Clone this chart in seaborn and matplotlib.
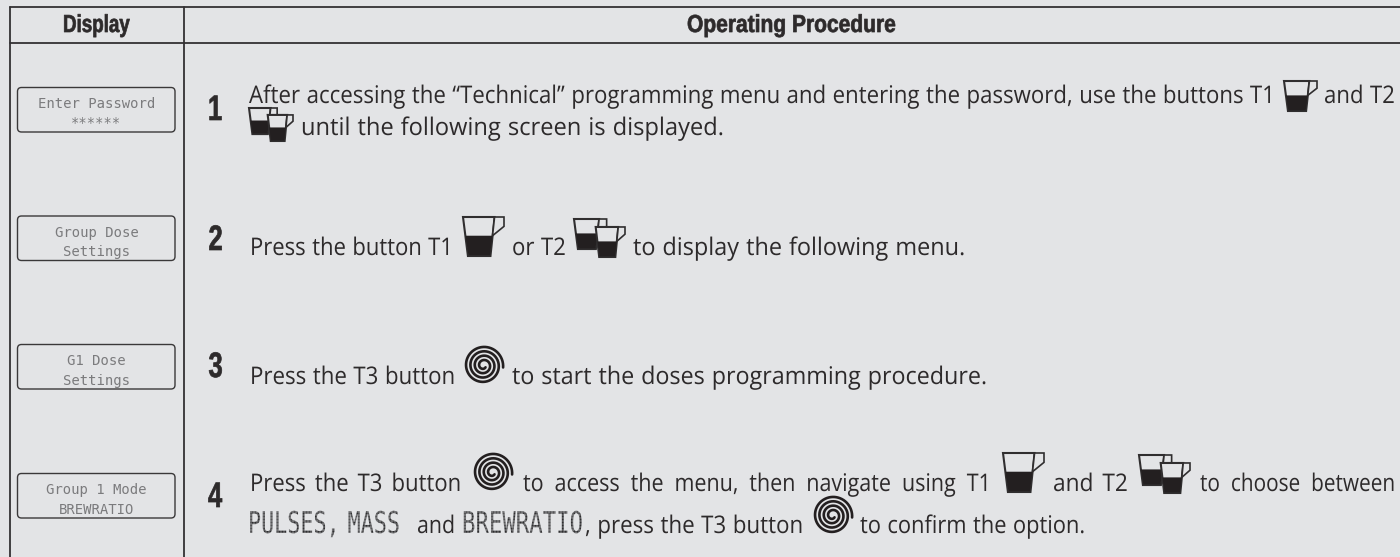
# plot.py
import numpy as np
import matplotlib
matplotlib.use('Agg')
import matplotlib.pyplot as plt
from matplotlib.patches import FancyBboxPatch, Polygon
from matplotlib.patheffects import AbstractPathEffect
from matplotlib.transforms import Affine2D
import seaborn as sns

# TABLE TEXT
header_labels = ['Display', 'Operating Procedure']
display_lines = [
    ['Enter Password', '******'],
    ['Group Dose', 'Settings'],
    ['G1 Dose', 'Settings'],
    ['Group 1 Mode', 'BREWRATIO'],
]
step_numbers = ['1', '2', '3', '4']
step1_text = [
    'After accessing the “Technical” programming menu and entering the password, use the buttons T1',
    'and T2',
    'until the following screen is displayed.',
]
step2_text = ['Press the button T1', 'or T2', 'to display the following menu.']
step3_text = ['Press the T3 button', 'to start the doses programming procedure.']
step4_text = [
    'Press the T3 button',
    'to access the menu, then navigate using T1',
    'and T2',
    'to choose between',
    'and',
    ', press the T3 button',
    'to confirm the option.',
]
lcd_words = ['PULSES, MASS', 'BREWRATIO']

BG = '#e3e4e6'
INK = '#2d2a2b'
LCD = '#7b7b7d'
BODY_FONT = 'Open Sans'
BOLD_FONT = 'Liberation Sans'
MONO_FONT = 'DejaVu Sans Mono'

sns.set_theme(style='white', rc={'figure.facecolor': BG, 'axes.facecolor': BG})

fig = plt.figure(figsize=(14, 5.57), dpi=100)
ax = fig.add_axes([0, 0, 1, 1])

# RULES
for xs, ys in [([10, 1400], [6.7, 6.7]), ([10, 1400], [42.5, 42.5]),
               ([10, 10], [6.7, 557]), ([183.7, 183.7], [6.7, 557])]:
    sns.lineplot(x=xs, y=ys, ax=ax, color='#333133', lw=1.3, sort=False, estimator=None)

ax.set_xlim(0, 1400)
ax.set_ylim(557, 0)
ax.axis('off')
sns.despine(ax=ax, left=True, bottom=True)
renderer = fig.canvas.get_renderer()


class Squeeze(AbstractPathEffect):
    # stretches the glyphs, there is no condensed face installed
    def __init__(self, sx=1.0, sy=1.0, stroke=0.0):
        super().__init__()
        self.sx = sx
        self.sy = sy
        self.stroke = stroke

    def draw_path(self, renderer, gc, tpath, affine, rgbFace=None):
        gc0 = renderer.new_gc()
        gc0.copy_properties(gc)
        if self.stroke:
            gc0.set_linewidth(self.stroke)
            gc0.set_foreground(rgbFace)
        renderer.draw_path(gc0, tpath, Affine2D().scale(self.sx, self.sy) + affine, rgbFace)
        gc0.restore()


def put_word(text, x, base, size, family, color, weight='normal'):
    return ax.text(x, base, text, fontsize=size, family=family, color=color, va='baseline', weight=weight)


def put_line(text, x0, x1, base, size=16.2, family=BODY_FONT, color=INK, gap=6.5, sy=1.08):
    # fixed word gap, letters scaled so the line ends where it does in the manual
    words = text.split(' ')
    items = [put_word(w, x0, base, size, family, color) for w in words]
    widths = [t.get_window_extent(renderer).width for t in items]
    sx = (x1 - x0 - gap * (len(words) - 1)) / sum(widths)
    x = x0
    for t, w in zip(items, widths):
        t.set_x(x)
        t.set_path_effects([Squeeze(sx, sy)])
        x += w * sx + gap


def put_fit(text, x0, x1, base, size):
    t = put_word(text, x0, base, size, BOLD_FONT, INK, weight='bold')
    sx = (x1 - x0) / t.get_window_extent(renderer).width
    t.set_path_effects([Squeeze(sx, stroke=.5)])


def cup(x0, y0, w, h, zorder=3):
    def pt(fx, fy):
        return (x0 + fx * w, y0 + fy * h)
    body = [pt(0, 0), pt(.77, 0), pt(.67, 1), pt(.12, 1)]
    handle = [pt(.77, 0), pt(1, 0), pt(1, .24), pt(.72, .48)]
    ax.add_patch(Polygon(body, closed=True, fc=BG, ec='#302e2f', lw=1.5, zorder=zorder))
    ax.add_patch(Polygon(handle, closed=True, fc=BG, ec='#302e2f', lw=1.2, zorder=zorder))
    fill = [pt(.06, .48), pt(.72, .48), pt(.66, .98), pt(.13, .98)]
    ax.add_patch(Polygon(fill, closed=True, fc='#231f20', ec='none', zorder=zorder + 0.5))


def double_cup(x0, y0, w, h):
    cup(x0, y0, .64 * w, .79 * h, zorder=3)
    cup(x0 + .425 * w, y0 + .21 * h, .575 * w, .79 * h, zorder=5)


def spiral(x0, y0, size):
    radius = size / 2
    t = np.linspace(0, 2 * np.pi * 3.9, 700)
    r = radius - .8 - (radius - 3.5) * t / t.max()
    cx, cy = x0 + radius, y0 + radius
    ax.plot(cx + r * np.cos(t - .1), cy - r * np.sin(t - .1), color='#231f20', lw=1.9,
            solid_capstyle='round', zorder=3)


def lcd_word(text, x0, x1, base):
    put_line(text, x0, x1, base, size=16, family=MONO_FONT, color='#2f2f31', gap=8, sy=1.35)
    # thin background grid turns the letters into dot matrix ones
    ax.hlines(np.arange(base - 24, base + 5, 3), x0 - 1, x1 + 1, color=BG, lw=.3, zorder=3.5)
    ax.vlines(np.arange(x0, x1 + 1, 3), base - 24, base + 5, color=BG, lw=.3, zorder=3.5)


# HEADER
put_fit(header_labels[0], 63, 130, 32, 17.7)
put_fit(header_labels[1], 687, 896, 32, 17.7)

# DISPLAY BOXES
box_tops = [87.5, 216, 344.5, 473.5]
for top, lines in zip(box_tops, display_lines):
    ax.add_patch(FancyBboxPatch((17.5, top), 157.5, 44.5, boxstyle='round,pad=0,rounding_size=4',
                                fc='none', ec='#3a3839', lw=1.0))
    ax.text(96.5, top + 20.5, lines[0], fontsize=10, family=MONO_FONT, color=LCD,
            ha='center', va='baseline')
    ax.text(96.5, top + 40, lines[1], fontsize=10, family=MONO_FONT, color=LCD,
            ha='center', va='baseline')

# STEP NUMBERS
for num, x, base in zip(step_numbers, [208, 208.5, 208.5, 208], [120, 250, 377, 507]):
    t = put_word(num, x, base, 25.5, BOLD_FONT, INK, weight='bold')
    t.set_path_effects([Squeeze(.72, stroke=.5)])

# STEP 1
put_line(step1_text[0], 249, 1275, 103)
cup(1284, 81, 33, 30)
put_line(step1_text[1], 1324, 1395, 103)
double_cup(249, 108, 44, 33)
put_line(step1_text[2], 301, 724, 135, gap=7)

# STEP 2
put_line(step2_text[0], 250, 453, 255)
cup(463, 217, 41, 39)
put_line(step2_text[1], 512, 566, 255)
double_cup(574, 219, 51, 38)
put_line(step2_text[2], 633, 965, 255, gap=7)

# STEP 3
put_line(step3_text[0], 250, 455, 384)
spiral(463, 345, 41)
put_line(step3_text[1], 512, 987, 384, gap=7)

# STEP 4
put_line(step4_text[0], 250, 461, 491, gap=9)
spiral(472, 452, 41)
put_line(step4_text[1], 523, 991, 491, gap=11)
cup(1003, 453, 41, 39)
put_line(step4_text[2], 1053, 1128, 491, gap=9)
double_cup(1139, 455, 51, 38)
put_line(step4_text[3], 1200, 1395, 491, gap=11)
lcd_word(lcd_words[0], 248, 400, 533)
put_line(step4_text[4], 417, 455, 533)
lcd_word(lcd_words[1], 462, 583, 533)
put_line(step4_text[5], 585, 803, 533)
spiral(812, 495, 41)
put_line(step4_text[6], 860, 1085, 533)

fig.savefig('out.png', dpi=100, facecolor=BG)
